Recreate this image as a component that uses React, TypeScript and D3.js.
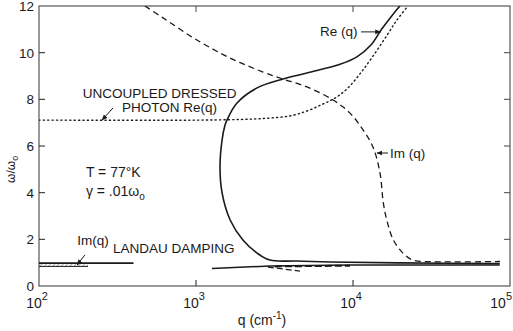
import * as d3 from "d3";

// curves: [q (cm^-1), ω/ω0]
const RE_Q: [number, number][] = [
  [86000, 0.96], [19900, 0.99], [7150, 1.03], [4400, 1.07], [2960, 1.11], [2450, 1.41],
  [1990, 1.97], [1650, 2.83], [1466, 3.99], [1422, 5.1], [1466, 6.26], [1531, 6.9],
  [1574, 7.11], [1824, 7.84], [2450, 8.49], [3580, 8.87], [5090, 9.13], [8260, 9.5],
  [10590, 9.82], [13100, 10.35], [15200, 11.0], [18000, 11.65], [19900, 12.0],
];
const IM_Q: [number, number][] = [
  [473, 12.0], [617, 11.49], [1014, 10.54], [1648, 9.77], [2673, 9.17], [3581, 8.87],
  [5093, 8.53], [7464, 7.97], [9572, 7.41], [11590, 6.69], [13400, 5.96], [14860, 4.84],
  [15600, 3.56], [16410, 2.83], [18070, 1.97], [20800, 1.41], [24100, 1.11], [32360, 1.04],
  [86300, 1.05],
];
const PHOTON: [number, number][] = [
  [100, 7.11], [1060, 7.11], [2210, 7.15], [2960, 7.2], [3970, 7.29], [5090, 7.5],
  [6440, 7.8], [7670, 8.05], [9160, 8.45], [11100, 9.1], [13400, 9.85], [16480, 10.75],
  [19050, 11.4], [22390, 12.0],
];
const LOWER_RE: [number, number][] = [[1265, 0.75], [2960, 0.86], [9570, 0.9], [86000, 0.9]];
const LOWER_IM_A: [number, number][] = [[2870, 0.81], [4590, 0.64]];
const LOWER_IM_B: [number, number][] = [[3180, 0.84], [9570, 0.87]];
const LANDAU_BAND: [number, number, number][] = [[100, 0.84, 0.98], [205, 0.84, 0.98]];
const LANDAU_LINE: [number, number][] = [[100, 0.98], [400, 0.98]];

const Y_TICKS = [0, 2, 4, 6, 8, 10, 12];
const X_TICKS = [100, 1000, 10000, 100000];
const X_EXP = ["2", "3", "4", "5"];

const W = 513, H = 331;
const FONT = "'Liberation Sans', Arial, sans-serif";
const INK = "#1a1a1a";

export default function App() {
  const x = d3.scaleLog().domain([100, 100000]).range([39, 510]);
  const y = d3.scaleLinear().domain([0, 12]).range([286, 6]);
  const line = d3.line<[number, number]>().x(d => x(d[0])).y(d => y(d[1])).curve(d3.curveCatmullRom.alpha(0.5));
  const straight = d3.line<[number, number]>().x(d => x(d[0])).y(d => y(d[1]));
  const band = d3.area<[number, number, number]>().x(d => x(d[0])).y0(d => y(d[1])).y1(d => y(d[2]));

  const [x0, x1] = x.range();
  const [y0, y1] = y.range();
  const inner = Y_TICKS.slice(1, -1);

  return (
    <>
      <style>{"body{margin:0;background:#fff}"}</style>
      <svg width={W} height={H} style={{ display: "block", background: "#fff" }} fontFamily={FONT}>
        <defs>
          <clipPath id="plot"><rect x={x0} y={y1} width={x1 - x0} height={y0 - y1} /></clipPath>
          <pattern id="hatch" width="3" height="3" patternUnits="userSpaceOnUse" patternTransform="rotate(45)">
            <line x1="0" y1="0" x2="0" y2="3" stroke="#777" strokeWidth="1.2" />
          </pattern>
          <marker id="arr" viewBox="0 0 10 10" refX="9" refY="5" markerWidth="6" markerHeight="6" orient="auto">
            <path d="M0,1 L10,5 L0,9 z" fill={INK} />
          </marker>
        </defs>

        {/* frame */}
        <rect x={x0} y={y1} width={x1 - x0} height={y0 - y1} fill="none" stroke="#555" strokeWidth={1.2} />
        {inner.map(v => (
          <g key={v}>
            <line x1={x0} x2={x0 + 6} y1={y(v)} y2={y(v)} stroke="#333" strokeWidth={1.1} />
            <line x1={x1 - 6} x2={x1} y1={y(v)} y2={y(v)} stroke="#555" strokeWidth={1.1} />
          </g>
        ))}
        {X_TICKS.slice(1, -1).map(v => (
          <g key={v}>
            <line x1={x(v)} x2={x(v)} y1={y0} y2={y0 - 6} stroke="#333" strokeWidth={1.1} />
            <line x1={x(v)} x2={x(v)} y1={y1} y2={y1 + 6} stroke="#555" strokeWidth={1.1} />
          </g>
        ))}
        {Y_TICKS.map(v => (
          <text key={v} x={34} y={y(v)} dy="0.36em" textAnchor="end" fontSize={13.5} fill={INK}>{v}</text>
        ))}
        {X_TICKS.map((v, i) => {
          const last = i === X_TICKS.length - 1;
          return (
            <text key={v} x={last ? 512 : x(v) - 2} y={308} textAnchor={last ? "end" : "middle"} fontSize={14} fill={INK}>
              10<tspan dy={-8} fontSize={11}>{X_EXP[i]}</tspan>
            </text>
          );
        })}
        <text x={262} y={325} textAnchor="middle" fontSize={14} fill={INK}>
          q (cm<tspan dy={-6} fontSize={10}>-1</tspan><tspan dy={6}>)</tspan>
        </text>
        <text transform={`translate(15,${y(5)}) rotate(-90)`} textAnchor="middle" fontSize={12} fill={INK}>
          ω/ω<tspan dy={3} fontSize={9}>o</tspan>
        </text>

        {/* curves */}
        <g clipPath="url(#plot)" fill="none" stroke={INK}>
          <path d={band(LANDAU_BAND) ?? ""} fill="url(#hatch)" stroke="none" />
          <path d={straight(LANDAU_BAND.map(d => [d[0], d[1]] as [number, number])) ?? ""} strokeWidth={1} />
          <path d={straight(LANDAU_LINE) ?? ""} strokeWidth={1.6} />
          <path d={line(PHOTON) ?? ""} strokeWidth={1.4} strokeDasharray="1.2,3.2" strokeLinecap="round" />
          <path d={line(RE_Q) ?? ""} strokeWidth={1.6} />
          <path d={line(IM_Q) ?? ""} strokeWidth={1.3} strokeDasharray="6,4" />
          <path d={straight(LOWER_RE) ?? ""} strokeWidth={1.5} />
          <path d={straight(LOWER_IM_A) ?? ""} strokeWidth={1.3} strokeDasharray="6,3" />
          <path d={straight(LOWER_IM_B) ?? ""} strokeWidth={2} strokeDasharray="7,3" />
        </g>

        {/* annotations */}
        <g fontSize={13.5} fill={INK}>
          <text x={x(190)} y={y(8.06)}>UNCOUPLED DRESSED</text>
          <text x={x(338)} y={y(7.46)}>PHOTON Re(q)</text>
          <text x={x(199)} y={y(4.67)} fontSize={14}>T = 77°K</text>
          <text x={x(199)} y={y(3.86)} fontSize={14}>γ = .01ω<tspan dy={4} fontSize={10}>o</tspan></text>
          <text x={x(175)} y={y(1.76)}>Im(q)</text>
          <text x={x(296)} y={y(1.41)}>LANDAU DAMPING</text>
          <text x={x(6170)} y={y(10.71)}>Re (q)</text>
          <text x={x(17200)} y={y(5.49)}>Im (q)</text>
        </g>
        <g stroke={INK} strokeWidth={1}>
          <line x1={x(296)} y1={y(7.63)} x2={x(252)} y2={y(7.11)} markerEnd="url(#arr)" />
          <line x1={x(196)} y1={y(1.33)} x2={x(175)} y2={y(0.9)} markerEnd="url(#arr)" />
          <line x1={x(11250)} y1={y(10.89)} x2={x(15000)} y2={y(10.89)} markerEnd="url(#arr)" />
          <line x1={x(16710)} y1={y(5.7)} x2={x(14220)} y2={y(5.7)} markerEnd="url(#arr)" />
        </g>
      </svg>
    </>
  );
}
